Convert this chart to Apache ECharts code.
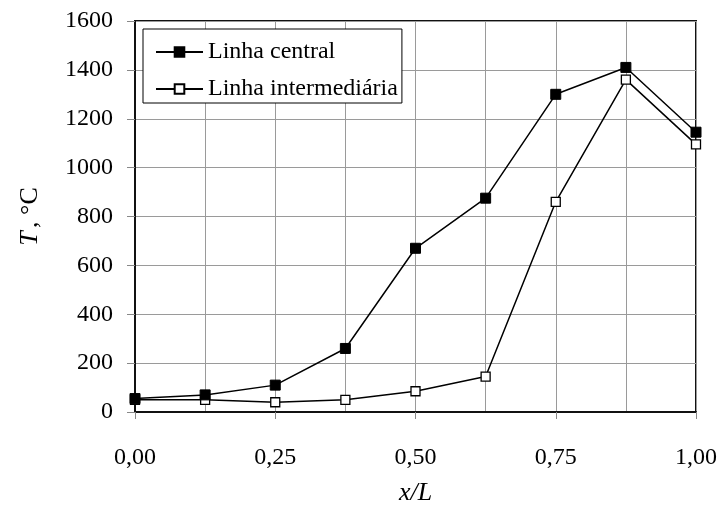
<!DOCTYPE html>
<html>
<head>
<meta charset="utf-8">
<script src="https://cdn.jsdelivr.net/npm/echarts@6/dist/echarts.min.js"></script>
<style>
  html, body { margin: 0; padding: 0; background: #fff; }
  #chart { width: 720px; height: 509px; }
</style>
</head>
<body>
<div id="chart"></div>
<script>
// Temperature profiles along the normalised length x/L
const positions = [0, 0.125, 0.25, 0.375, 0.5, 0.625, 0.75, 0.875, 1.0];
const centralLine = [55, 70, 110, 260, 670, 875, 1300, 1410, 1145];
const intermediateLine = [50, 50, 40, 50, 85, 145, 860, 1360, 1095];
const seriesNames = ['Linha central', 'Linha intermediária'];

const serif = '"Liberation Serif", "Times New Roman", serif';

function pairs(ys) {
  return positions.map((x, i) => [x, ys[i]]);
}

const chart = echarts.init(document.getElementById('chart'), null, { renderer: 'canvas' });

chart.setOption({
  animation: false,
  backgroundColor: '#fff',
  grid: {
    left: 135, right: 24, top: 21, bottom: 97,
    outerBoundsMode: 'none', containLabel: false,
    show: true, borderColor: '#111', borderWidth: 2, backgroundColor: 'transparent'
  },
  legend: {
    orient: 'vertical',
    left: 143, top: 29,
    padding: [11, 4, 2, 12],
    itemGap: 13,
    itemWidth: 47, itemHeight: 12,
    backgroundColor: '#fff',
    borderColor: '#000', borderWidth: 1,
    textStyle: { fontFamily: serif, fontSize: 24, color: '#000', lineHeight: 24 },
    data: seriesNames
  },
  xAxis: [
    {
      // labelled axis, ticks every 0.25
      type: 'value', min: 0, max: 1, interval: 0.25,
      axisLine: { show: true, lineStyle: { color: '#111', width: 2 } },
      axisTick: { show: true, inside: false, length: 7, lineStyle: { color: '#888', width: 1 } },
      axisLabel: {
        margin: 34, fontFamily: serif, fontSize: 24, color: '#000',
        formatter: v => v.toFixed(2).replace('.', ',')
      },
      splitLine: { show: false },
      name: 'x/L', nameLocation: 'middle', nameGap: 68,
      nameTextStyle: { fontFamily: serif, fontSize: 26, fontStyle: 'italic', color: '#000' }
    },
    {
      // gridlines every 0.125
      type: 'value', min: 0, max: 1, interval: 0.125, position: 'bottom',
      axisLine: { show: false }, axisTick: { show: false }, axisLabel: { show: false },
      splitLine: { show: true, lineStyle: { color: '#9a9a9a', width: 1 } }
    }
  ],
  yAxis: {
    type: 'value', min: 0, max: 1600, interval: 200,
    axisLine: { show: true, lineStyle: { color: '#111', width: 2 } },
    axisTick: { show: true, inside: false, length: 8, lineStyle: { color: '#888', width: 1 } },
    axisLabel: { margin: 22, fontFamily: serif, fontSize: 24, color: '#000', formatter: v => String(v) },
    splitLine: { show: true, lineStyle: { color: '#9a9a9a', width: 1 } },
    name: '{i|T} {n|, °C}', nameLocation: 'middle', nameGap: 92, nameRotate: 90,
    nameTextStyle: {
      color: '#000',
      rich: {
        i: { fontFamily: serif, fontSize: 26, fontStyle: 'italic', color: '#000' },
        n: { fontFamily: serif, fontSize: 26, color: '#000' }
      }
    }
  },
  series: [
    {
      name: seriesNames[0], type: 'line', xAxisIndex: 0,
      data: pairs(centralLine),
      symbol: 'rect', symbolSize: 10,
      lineStyle: { color: '#000', width: 1.5 },
      itemStyle: { color: '#000', borderColor: '#000', borderWidth: 1 },
      z: 3
    },
    {
      name: seriesNames[1], type: 'line', xAxisIndex: 0,
      data: pairs(intermediateLine),
      symbol: 'rect', symbolSize: 9,
      lineStyle: { color: '#000', width: 1.5 },
      itemStyle: { color: '#fff', borderColor: '#000', borderWidth: 1.3 },
      z: 2
    }
  ]
});
</script>
</body>
</html>
